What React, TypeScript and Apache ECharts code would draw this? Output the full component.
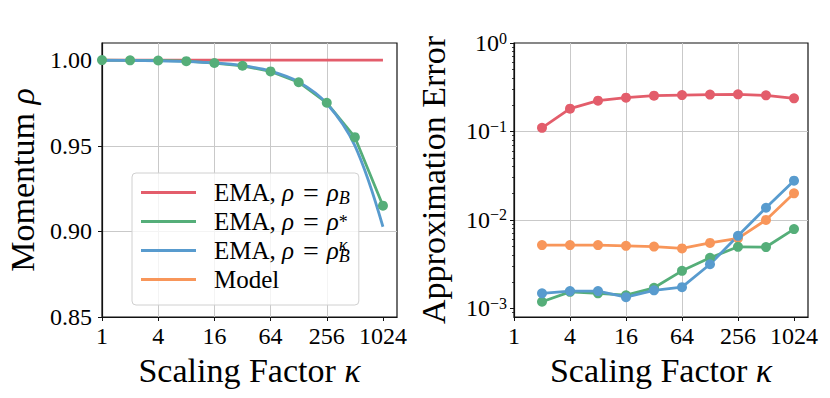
import React, { useEffect, useRef } from "react";
import * as echarts from "echarts";

// ---------- data ----------
const kappaAll = [1, 2, 4, 8, 16, 32, 64, 128, 256, 512, 1024];
const kappaErr = [2, 4, 8, 16, 32, 64, 128, 256, 512, 1024];

// left panel: momentum
const momRedKappa = [1, 1024];
const momRed = [1.0, 1.0];
const momGreen = [1.0, 0.9999, 0.9998, 0.9994, 0.9983, 0.9967, 0.9934, 0.9871, 0.9751, 0.955, 0.915];
const momBlue = [0.9999, 0.9998, 0.9996, 0.9992, 0.9984, 0.9968, 0.9936, 0.9873, 0.9747, 0.9501, 0.9027];

// right panel: approximation error
const errRed = [0.11, 0.181, 0.223, 0.241, 0.254, 0.258, 0.261, 0.263, 0.256, 0.237];
const errGreen = [0.00119, 0.00154, 0.00148, 0.00141, 0.00171, 0.00266, 0.00373, 0.00497, 0.00494, 0.00789];
const errBlue = [0.00148, 0.00157, 0.00157, 0.00134, 0.0016, 0.00174, 0.00316, 0.00662, 0.01375, 0.0278];
const errModel = [0.0052, 0.0052, 0.0052, 0.0051, 0.005, 0.00477, 0.0055, 0.0062, 0.01, 0.02];

// ticks
const xTickValues = [1, 4, 16, 64, 256, 1024];
const xTickLabels = ["1", "4", "16", "64", "256", "1024"];
const xMax = 1448;
const momTickValues = [0.85, 0.9, 0.95, 1.0];
const momTickLabels = ["0.85", "0.90", "0.95", "1.00"];
const errTickValues = [0.001, 0.01, 0.1, 1];
const errTickExps = ["−3", "−2", "−1", "0"];
const errMinorTicks = [
  0.0009,
  0.002, 0.003, 0.004, 0.005, 0.006, 0.007, 0.008, 0.009,
  0.02, 0.03, 0.04, 0.05, 0.06, 0.07, 0.08, 0.09,
  0.2, 0.3, 0.4, 0.5, 0.6, 0.7, 0.8, 0.9,
];

// names
const N_RED = "EMA, ρ = ρ_B";
const N_GREEN = "EMA, ρ = ρ*";
const N_BLUE = "EMA, ρ = ρ_B^κ";
const N_MODEL = "Model";
const legendLabels: Record<string, string> = {
  [N_RED]: "EMA, {it|ρ}{eq|=}{it|ρ}{sub|B}",
  [N_GREEN]: "EMA, {it|ρ}{eq|=}{it|ρ}{ast|*}",
  [N_BLUE]: "EMA, {it|ρ}{eq|=}{it|ρ}{supz|κ}{sub|B}",
  [N_MODEL]: "Model",
};

const COL = { red: "#E35D6B", green: "#55AE79", blue: "#589BCE", orange: "#F8965A" };
const FONT = "'Liberation Serif', 'DejaVu Serif', serif";
const GRID_COLOR = "#c9c9c9";
const AX_COLOR = "#111";

const pair = (xs: number[], ys: number[]) => xs.map((x, i) => [x, ys[i]]);
const near = (a: number, b: number) => Math.abs(a - b) / Math.abs(b) < 1e-6;

function xAxisDef(gridIndex: number) {
  return {
    type: "log",
    logBase: 4,
    gridIndex,
    min: 1,
    max: xMax,
    axisLine: { show: true, lineStyle: { color: AX_COLOR, width: 1.2 } },
    axisTick: { show: true, length: 4, inside: false, customValues: xTickValues, lineStyle: { color: AX_COLOR, width: 1 } },
    axisLabel: {
      fontSize: 24,
      fontFamily: FONT,
      color: "#000",
      margin: 7,
      showMaxLabel: false,
      formatter: (v: number) => {
        const i = xTickValues.findIndex((t) => near(v, t));
        return i >= 0 ? xTickLabels[i] : "";
      },
    },
    splitLine: { show: true, showMinLine: false, showMaxLine: false, lineStyle: { color: GRID_COLOR, width: 1 } },
    name: "Scaling Factor {it|κ}",
    nameLocation: "middle",
    nameGap: 36,
    nameTextStyle: {
      fontSize: 34,
      fontFamily: FONT,
      color: "#000",
      rich: { it: { fontSize: 34, fontFamily: FONT, fontStyle: "italic", color: "#000" } },
    },
  };
}

function lineSeries(name: string, xs: number[], ys: number[], color: string, xi: number, yi: number, opts: any = {}) {
  return {
    name,
    type: "line",
    xAxisIndex: xi,
    yAxisIndex: yi,
    data: pair(xs, ys),
    symbol: "circle",
    symbolSize: 10,
    lineStyle: { width: 2.8, color },
    itemStyle: { color },
    emphasis: { disabled: true },
    ...opts,
  };
}

export default function App() {
  const ref = useRef<HTMLDivElement>(null);
  useEffect(() => {
    if (!ref.current) return;
    const chart = echarts.init(ref.current, undefined, { renderer: "svg" });
    const option: any = {
      animation: false,
      textStyle: { fontFamily: FONT },
      grid: [
        { left: 102, top: 43, width: 295, height: 274, show: true, borderColor: AX_COLOR, borderWidth: 1.2, backgroundColor: "transparent", outerBoundsMode: "none", containLabel: false },
        { left: 514, top: 43, width: 294, height: 274, show: true, borderColor: AX_COLOR, borderWidth: 1.2, backgroundColor: "transparent", outerBoundsMode: "none", containLabel: false },
      ],
      xAxis: [xAxisDef(0), xAxisDef(1)],
      yAxis: [
        {
          type: "value",
          gridIndex: 0,
          min: 0.85,
          max: 1.01,
          interval: 0.05,
          axisLine: { show: true, lineStyle: { color: AX_COLOR, width: 1.2 } },
          axisTick: { show: true, length: 4, customValues: momTickValues, lineStyle: { color: AX_COLOR, width: 1 } },
          axisLabel: {
            fontSize: 24,
            fontFamily: FONT,
            color: "#000",
            margin: 10,
            showMaxLabel: false,
            formatter: (v: number) => {
              const i = momTickValues.findIndex((t) => near(v, t));
              return i >= 0 ? momTickLabels[i] : "";
            },
          },
          splitLine: { show: true, showMinLine: false, showMaxLine: false, lineStyle: { color: GRID_COLOR, width: 1 } },
          name: "Momentum {it|ρ}",
          nameLocation: "middle",
          nameGap: 63,
          nameTextStyle: {
            fontSize: 34,
            fontFamily: FONT,
            color: "#000",
            rich: { it: { fontSize: 34, fontFamily: FONT, fontStyle: "italic", color: "#000" } },
          },
        },
        {
          type: "log",
          logBase: 10,
          gridIndex: 1,
          min: 0.0008,
          max: 1,
          axisLine: { show: true, lineStyle: { color: AX_COLOR, width: 1.2 } },
          axisTick: { show: true, length: 4, customValues: errTickValues, lineStyle: { color: AX_COLOR, width: 1 } },
          axisLabel: {
            fontSize: 24,
            fontFamily: FONT,
            color: "#000",
            margin: 7,
            lineHeight: 26,
            showMinLabel: false,
            formatter: (v: number) => {
              const i = errTickValues.findIndex((t) => near(v, t));
              return i >= 0 ? "10{sup|" + errTickExps[i] + "}" : "";
            },
            rich: {
              sup: { fontSize: 16, fontFamily: FONT, color: "#000", lineHeight: 16, verticalAlign: "top" },
            },
          },
          splitLine: { show: true, showMinLine: false, showMaxLine: false, lineStyle: { color: GRID_COLOR, width: 1 } },
          name: "Approximation Error",
          nameLocation: "middle",
          nameGap: 64,
          nameTextStyle: { fontSize: 34, fontFamily: FONT, color: "#000" },
        },
        {
          type: "log",
          logBase: 10,
          gridIndex: 1,
          position: "left",
          offset: 0,
          min: 0.0008,
          max: 1,
          axisLine: { show: false },
          axisTick: { show: true, length: 2, customValues: errMinorTicks, lineStyle: { color: AX_COLOR, width: 0.8 } },
          axisLabel: { show: false },
          splitLine: { show: false },
        },
      ],
      legend: {
        left: 132,
        top: 173,
        orient: "vertical",
        selectedMode: false,
        data: [N_RED, N_GREEN, N_BLUE, N_MODEL],
        icon: "rect",
        itemWidth: 55,
        itemHeight: 3,
        itemGap: 0,
        padding: [5, 9, 11, 9],
        backgroundColor: "rgba(255,255,255,0.8)",
        borderColor: "#d0d0d0",
        borderWidth: 1,
        borderRadius: 4,
        formatter: (name: string) => legendLabels[name] ?? name,
        textStyle: {
          fontSize: 25,
          fontFamily: FONT,
          color: "#000",
          lineHeight: 29,
          padding: [0, 0, 0, 13],
          rich: {
            it: { fontSize: 25, fontFamily: FONT, fontStyle: "italic", color: "#000", lineHeight: 29 },
            eq: { fontSize: 28, fontFamily: FONT, color: "#000", lineHeight: 29, padding: [0, 8, 0, 9] },
            sub: { fontSize: 18, fontFamily: FONT, fontStyle: "italic", color: "#000", lineHeight: 17, verticalAlign: "bottom" },
            ast: { fontSize: 18, fontFamily: FONT, color: "#000", lineHeight: 17, verticalAlign: "middle" },
            supz: { fontSize: 18, fontFamily: FONT, fontStyle: "italic", color: "#000", lineHeight: 17, verticalAlign: "top", width: 0 },
          },
        },
      },
      series: [
        // left panel
        lineSeries(N_RED, momRedKappa, momRed, COL.red, 0, 0, { symbol: "none", showSymbol: false }),
        lineSeries(N_GREEN, kappaAll, momGreen, COL.green, 0, 0),
        lineSeries(N_BLUE, kappaAll, momBlue, COL.blue, 0, 0, { symbol: "none", showSymbol: false, smooth: 0.35 }),
        // right panel
        lineSeries(N_MODEL, kappaErr, errModel, COL.orange, 1, 1),
        lineSeries(N_RED, kappaErr, errRed, COL.red, 1, 1),
        lineSeries(N_GREEN, kappaErr, errGreen, COL.green, 1, 1),
        lineSeries(N_BLUE, kappaErr, errBlue, COL.blue, 1, 1),
      ],
    };
    chart.setOption(option);
    return () => chart.dispose();
  }, []);
  return <div ref={ref} style={{ position: "absolute", left: 0, top: 0, width: 830, height: 398 }} />;
}
